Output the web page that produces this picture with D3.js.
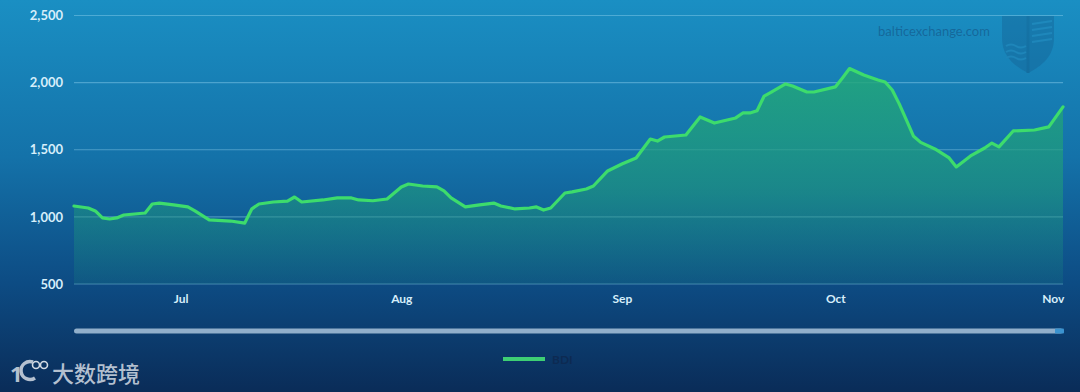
<!DOCTYPE html>
<html><head><meta charset="utf-8">
<script src="https://cdn.jsdelivr.net/npm/d3@7"></script>
<style>html,body{margin:0;padding:0;background:#0b2f5c;}svg{display:block;}</style>
</head><body>
<svg id="chart" width="1080" height="392"></svg>
<script>
const seriesName = "BDI";
const dates = ["2023-06-16","2023-06-18","2023-06-19","2023-06-20","2023-06-21","2023-06-22","2023-06-23","2023-06-26","2023-06-27","2023-06-28","2023-06-30","2023-07-02","2023-07-03","2023-07-05","2023-07-08","2023-07-10","2023-07-11","2023-07-12","2023-07-14","2023-07-16","2023-07-17","2023-07-18","2023-07-21","2023-07-23","2023-07-25","2023-07-26","2023-07-28","2023-07-30","2023-07-31","2023-08-01","2023-08-02","2023-08-04","2023-08-06","2023-08-07","2023-08-08","2023-08-10","2023-08-12","2023-08-14","2023-08-15","2023-08-17","2023-08-19","2023-08-20","2023-08-21","2023-08-22","2023-08-24","2023-08-25","2023-08-27","2023-08-28","2023-08-30","2023-09-01","2023-09-03","2023-09-05","2023-09-06","2023-09-07","2023-09-10","2023-09-12","2023-09-14","2023-09-17","2023-09-18","2023-09-19","2023-09-20","2023-09-21","2023-09-22","2023-09-24","2023-09-25","2023-09-27","2023-09-28","2023-10-01","2023-10-02","2023-10-03","2023-10-05","2023-10-07","2023-10-08","2023-10-09","2023-10-10","2023-10-11","2023-10-12","2023-10-13","2023-10-15","2023-10-17","2023-10-18","2023-10-20","2023-10-22","2023-10-23","2023-10-24","2023-10-26","2023-10-29","2023-10-31","2023-11-02"];
const bdiValues = [1081,1066,1044,992,984,992,1014,1029,1096,1103,1089,1074,1044,977,969,954,1060,1096,1111,1118,1148,1111,1126,1141,1141,1126,1120,1133,1178,1223,1245,1230,1223,1193,1141,1074,1089,1103,1081,1059,1066,1074,1051,1066,1178,1186,1208,1230,1342,1394,1439,1580,1565,1595,1610,1744,1699,1737,1774,1774,1790,1900,1930,1990,1975,1930,1930,1968,2035,2105,2057,2020,2005,1945,1840,1720,1600,1555,1506,1439,1372,1454,1513,1550,1521,1640,1647,1670,1819];
const yTicks = [500,1000,1500,2000,2500];
const monthTicks = ["2023-07-01","2023-08-01","2023-09-01","2023-10-01","2023-11-01"];
const monthLabels = ["Jul","Aug","Sep","Oct","Nov"];
const domainDates = ["2023-06-16","2023-11-02"];

(function(){
const parse = d3.utcParse("%Y-%m-%d");
const data = dates.map((d,i)=>({date:parse(d), value:bdiValues[i]}));

const W=1080,H=392;
const mL=74,mR=1063,mT=15.5,mB=284;
const svg=d3.select("#chart");
const defs=svg.append("defs");

const bg=defs.append("linearGradient").attr("id","bg").attr("x1",0).attr("y1",0).attr("x2",0).attr("y2",1);
bg.append("stop").attr("offset","0%").attr("stop-color","#1a8fc3");
bg.append("stop").attr("offset","40%").attr("stop-color","#1472a9");
bg.append("stop").attr("offset","72%").attr("stop-color","#0d4c84");
bg.append("stop").attr("offset","100%").attr("stop-color","#0a2c58");
svg.append("rect").attr("width",W).attr("height",H).attr("fill","url(#bg)");

const ag=defs.append("linearGradient").attr("id","ag").attr("gradientUnits","userSpaceOnUse")
  .attr("x1",0).attr("y1",70).attr("x2",0).attr("y2",mB);
ag.append("stop").attr("offset","0%").attr("stop-color","#22a878").attr("stop-opacity",0.85);
ag.append("stop").attr("offset","55%").attr("stop-color","#1f9a7c").attr("stop-opacity",0.62);
ag.append("stop").attr("offset","100%").attr("stop-color","#1a8a7e").attr("stop-opacity",0.18);

const x=d3.scaleUtc().domain(domainDates.map(parse)).range([mL,mR]);
const y=d3.scaleLinear().domain([500,2500]).range([mB,mT]);

// Baltic watermark
svg.append("text").attr("x",934).attr("y",36).attr("text-anchor","middle")
  .attr("font-family","Lato, 'Open Sans', sans-serif").attr("font-size",13)
  .attr("fill","#123e6e").attr("fill-opacity",0.45).text("balticexchange.com");
const sh=svg.append("g").attr("transform","translate(1000,16)").attr("opacity",0.35);
sh.append("path").attr("d","M2,0 L54,0 L54,22 C54,40 42,50 28,57 C14,50 2,40 2,22 Z").attr("fill","#155c8e");
sh.append("path").attr("d","M28,0 L28,57").attr("stroke","#0f4a78").attr("stroke-width",3);
[30,36,42].forEach(v=>sh.append("path").attr("d",`M6,${v} q5,-3 10,0 t10,0`).attr("stroke","#2a86b8").attr("fill","none").attr("stroke-width",2));
[8,14,20,26].forEach(v=>sh.append("path").attr("d",`M32,${v} L52,${v-3}`).attr("stroke","#2a86b8").attr("stroke-width",2));

// grid
svg.append("g").selectAll("line").data(yTicks).join("line")
  .attr("x1",mL).attr("x2",mR).attr("y1",d=>y(d)).attr("y2",d=>y(d))
  .attr("stroke","#8fd0ee").attr("stroke-opacity",0.45).attr("stroke-width",1.2);

// y labels
const yAxis=d3.axisLeft(y).tickValues(yTicks).tickFormat(d3.format(",")).tickSize(0).tickPadding(11);
const ya=svg.append("g").attr("transform",`translate(${mL},0)`).call(yAxis);
ya.select(".domain").remove();
ya.selectAll("text").attr("font-family","Lato, 'Open Sans', sans-serif").attr("font-size",13).attr("font-weight",700).attr("fill","#d6eefa");

// x labels
const xAxis=d3.axisBottom(x).tickValues(monthTicks.map(parse)).tickFormat((d,i)=>monthLabels[i]).tickSize(0).tickPadding(10);
const xa=svg.append("g").attr("transform",`translate(0,${mB})`).call(xAxis);
xa.select(".domain").remove();
xa.selectAll("text").attr("font-family","Lato, 'Open Sans', sans-serif").attr("font-size",12).attr("font-weight",700).attr("fill","#d6eefa");
xa.selectAll(".tick").filter((d,i)=>i===monthLabels.length-1).select("text").attr("text-anchor","end").attr("dx",8);

// area + line
const area=d3.area().x(d=>x(d.date)).y0(y(500)).y1(d=>y(d.value)).curve(d3.curveLinear);
svg.append("path").datum(data).attr("d",area).attr("fill","url(#ag)");
const line=d3.line().x(d=>x(d.date)).y(d=>y(d.value)).curve(d3.curveLinear);
svg.append("path").datum(data).attr("d",line).attr("fill","none").attr("stroke","#3ddc6c").attr("stroke-width",3.2).attr("stroke-linejoin","round").attr("stroke-linecap","round");

// scrollbar
svg.append("rect").attr("x",mL).attr("y",328.5).attr("width",mR-mL).attr("height",5).attr("rx",2.5)
  .attr("fill","#a9c3da").attr("fill-opacity",0.85);
svg.append("rect").attr("x",1055).attr("y",328.5).attr("width",9).attr("height",5).attr("rx",1)
  .attr("fill","#3b93cf");

// legend
svg.append("line").attr("x1",503).attr("x2",545).attr("y1",359).attr("y2",359).attr("stroke","#3ecf74").attr("stroke-width",4);
svg.append("text").attr("x",552).attr("y",363.5).attr("font-family","Lato, 'Open Sans', sans-serif").attr("font-size",12).attr("font-weight",700).attr("fill","#0d2a52").text(seriesName);

// bottom-left watermark
const wm=svg.append("g").attr("fill","#d3dbe4").attr("fill-opacity",0.85);
wm.append("text").attr("x",10).attr("y",382).attr("font-family","'Noto Sans', sans-serif").attr("font-size",22).attr("font-weight",700).text("1");
wm.append("path").attr("d","M33,362 a9,9 0 1 0 2,16").attr("fill","none").attr("stroke","#d3dbe4").attr("stroke-opacity",0.85).attr("stroke-width",3.5);
wm.append("circle").attr("cx",36).attr("cy",365).attr("r",3.5).attr("fill","none").attr("stroke","#d3dbe4").attr("stroke-width",1.6);
wm.append("circle").attr("cx",44).attr("cy",365).attr("r",3.5).attr("fill","none").attr("stroke","#d3dbe4").attr("stroke-width",1.6);
wm.append("text").attr("x",52).attr("y",381.5).attr("font-family","'Noto Sans CJK SC', sans-serif").attr("font-size",22).attr("font-weight",500).text("大数跨境");
})();
</script>
</body></html>
